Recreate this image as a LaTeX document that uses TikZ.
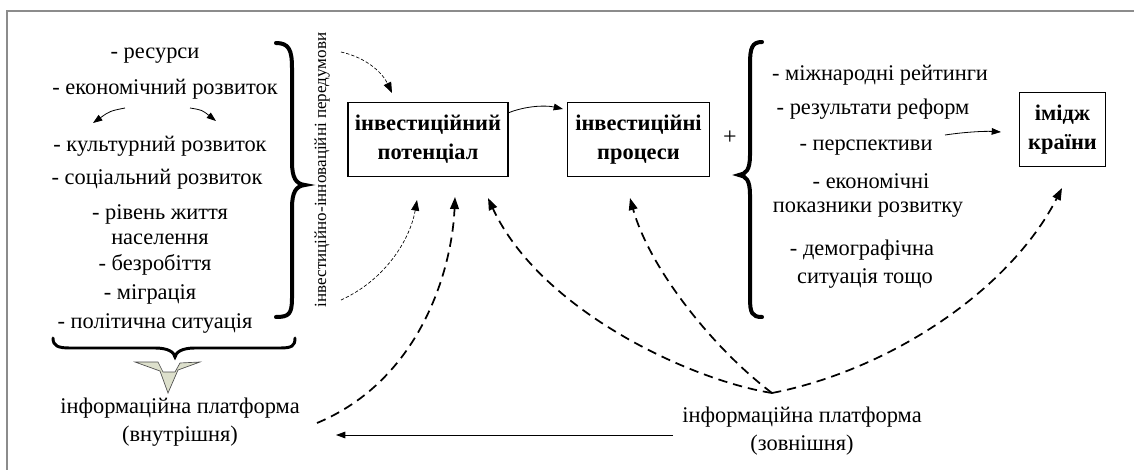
\documentclass[tikz,border=0pt]{standalone}
\usepackage{fontspec}
\setmainfont{Liberation Serif}
\usetikzlibrary{arrows.meta}
\tikzset{
  lst/.style={font=\fontsize{16.8}{21}\selectfont, inner sep=0pt, anchor=base},
  plat/.style={font=\fontsize{16.8}{21.5}\selectfont, align=center, inner sep=0pt},
  boxed/.style={draw, line width=0.8pt, font=\bfseries\fontsize{16.8}{21.8}\selectfont, align=center, inner sep=0pt},
  thinarrow/.style={line width=0.6pt, -{Triangle[length=7pt,width=5pt]}},
  thindash/.style={line width=0.5pt, dash pattern=on 2.5pt off 1.5pt, -{Triangle[length=8pt,width=6pt]}},
  thickdash/.style={line width=1.3pt, dash pattern=on 7pt off 4.5pt, -{Triangle[length=9pt,width=6.5pt]}},
  bigbrace/.style={line width=3pt, line cap=round},
}
\begin{document}
\begin{tikzpicture}[x=0.75pt, y=-0.75pt]
\useasboundingbox (0,0) rectangle (1134,470);
% frame
\draw[line width=1.5pt, color=black!45] (7,470) -- (7,11) -- (1134,11);

% left list
\node[lst] (l1) at (155,59) {- ресурси};
\node[lst] (l2) at (165,95) {- економічний розвиток};
\node[lst] (l3) at (160,152) {- культурний розвиток};
\node[lst] (l4) at (157,185) {- соціальний розвиток};
\node[lst] (l5) at (160,220) {- рівень життя};
\node[lst] (l6) at (160,244) {населення};
\node[lst] (l7) at (155,270) {- безробіття};
\node[lst] (l8) at (150,299) {- міграція};
\node[lst] (l9) at (155,328) {- політична ситуація};
\coordinate (a1s) at (125,108); \coordinate (a1e) at (93,123);
\coordinate (a2s) at (190,108); \coordinate (a2e) at (216,121);
\draw[thinarrow] (a1s) .. controls (110,111) .. (a1e);
\draw[thinarrow] (a2s) .. controls (202,110) .. (a2e);

% right brace of left list
\draw[bigbrace] (276,43) .. controls (289,43) and (292,50) .. (292,68) -- (292,162)
  .. controls (292,178) and (296,184) .. (305,185) .. controls (296,186) and (292,192) .. (292,208)
  -- (292,298) .. controls (292,314) and (289,317) .. (276,317);
% bottom brace
\draw[bigbrace, line width=2.2pt] (53,338) .. controls (53,346) and (58,348) .. (70,348) -- (155,348)
  .. controls (168,348) and (174,352) .. (175,357) .. controls (176,352) and (182,348) .. (195,348)
  -- (280,348) .. controls (292,348) and (295,346) .. (295,338);
% down arrow shape
\draw[fill={rgb,255:red,221;green,224;blue,204}, draw=black!70, line width=0.5pt]
  (135,362) -- (158,362) -- (163,372) -- (175,372) -- (180,363) -- (200,362) -- (178,370)
  -- (168,393) -- (160,371) -- cycle;

% vertical text
\node[rotate=90, font=\fontsize{12.8}{15}\selectfont, inner sep=0pt] (vt) at (322,170) {інвестиційно-інноваційні передумови};

% boxes
\node[boxed, minimum width=120pt, minimum height=55pt] (pot) at (428,139.5) {інвестиційний\\потенціал};
\node[boxed, minimum width=107pt, minimum height=55pt] (proc) at (638.5,139.5) {інвестиційні\\процеси};
\node[boxed, minimum width=64pt, minimum height=55pt] (img) at (1062.5,129.5) {імідж\\країни};

\node[font=\fontsize{18}{20}\selectfont, inner sep=0pt] (plus) at (730,138) {+};

% right brace
\draw[bigbrace] (762,42) .. controls (752,42) and (750,48) .. (750,64) -- (750,155)
  .. controls (750,170) and (746,174) .. (739,175) .. controls (746,176) and (750,180) .. (750,195)
  -- (750,298) .. controls (750,313) and (752,317) .. (762,317);

% right list
\node[lst] (r1) at (880,81) {- міжнародні рейтинги};
\node[lst] (r2) at (873,115) {- результати реформ};
\node[lst] (r3) at (866,151) {- перспективи};
\node[lst] (r4) at (871,189) {- економічні};
\node[lst] (r5) at (868,213) {показники розвитку};
\node[lst] (r6) at (862,256) {- демографічна};
\node[lst] (r7) at (865,283) {ситуація тощо};

% platforms
\node[plat] (pin) at (180,422) {інформаційна платформа\\(внутрішня)};
\node[plat] (pex) at (802,431) {інформаційна платформа\\(зовнішня)};

% coordinates
\coordinate (apex) at (772,393);
\coordinate (t1s) at (341,52); \coordinate (t1e) at (392,93);
\coordinate (t2s) at (341,300); \coordinate (t2e) at (417,200);
\coordinate (p1s) at (508,113); \coordinate (p1e) at (563,109);
\coordinate (inS) at (317,423); \coordinate (potC) at (455,197);
\coordinate (potR) at (488,198); \coordinate (procB) at (630,198);
\coordinate (imgB) at (1062,188);
\coordinate (perS) at (945,135); \coordinate (perE) at (1001,132);
\coordinate (hS) at (673,435); \coordinate (hE) at (336,435);

% connectors
\draw[thindash] (t1s) .. controls (368,58) and (383,74) .. (t1e);
\draw[thindash] (t2s) .. controls (385,280) and (410,240) .. (t2e);
\draw[thinarrow] (p1s) .. controls (525,106) and (545,105) .. (p1e);
\draw[thinarrow] (perS) .. controls (965,132) and (985,131) .. (perE);
\draw[thinarrow] (hS) -- (hE);
\draw[thickdash] (inS) .. controls (420,380) and (452,270) .. (potC);
\draw[thickdash] (apex) .. controls (690,380) and (540,310) .. (potR);
\draw[thickdash] (apex) .. controls (715,350) and (650,270) .. (procB);
\draw[thickdash] (apex) .. controls (890,370) and (1010,290) .. (imgB);
\end{tikzpicture}
\end{document}
